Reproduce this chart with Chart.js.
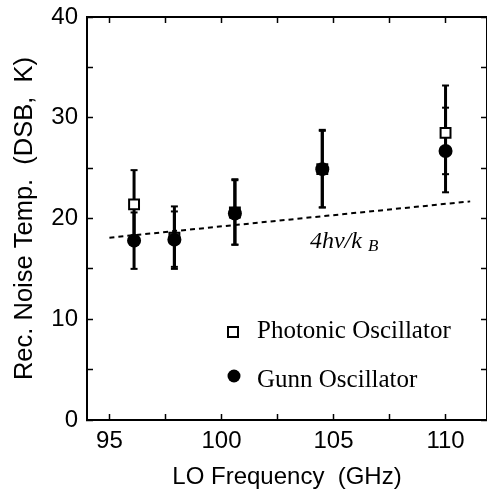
<!DOCTYPE html>
<html><head><meta charset="utf-8">
<script src="https://cdn.jsdelivr.net/npm/chart.js@4/dist/chart.umd.min.js"></script>
<style>html,body{margin:0;padding:0;background:#fff;overflow:hidden;}</style>
</head><body>
<canvas id="c" width="487" height="493"></canvas>
<script>
// ---- data ----
const frequencyGHz    = [96.1, 97.9, 100.6, 104.5, 110.0];
const photonicTemp    = [21.4, 18.1, 20.6, 24.9, 28.5];
const photonicErrLow  = [18.0, 15.2, 17.4, 21.1, 24.4];
const photonicErrHigh = [24.8, 21.2, 23.9, 28.8, 33.2];
const gunnTemp        = [17.8, 17.9, 20.5, 24.9, 26.7];
const gunnErrLow      = [15.0, 15.0, 17.4, 21.1, 22.6];
const gunnErrHigh     = [20.6, 20.7, 23.8, 28.7, 31.0];
const limitFreq       = [95.0, 111.1];
const limitTemp       = [18.1, 21.7];
const xTickLabels     = [95, 100, 105, 110];
const yTickLabels     = [0, 10, 20, 30, 40];
const seriesNames     = ['Photonic Oscillator', 'Gunn Oscillator'];
const limitLabel      = ['4hν/k', 'B'];
const xTitle = 'LO Frequency  (GHz)';
const yTitle = 'Rec. Noise Temp.  (DSB,  K)';

// ---- build library structures ----
const pts = (xs, ys) => xs.map((x, i) => ({x: x, y: ys[i]}));
function errorBars(xs, lo, hi) {
  const out = [];
  xs.forEach((x, i) => { out.push({x: x, y: lo[i]}, {x: x, y: hi[i]}, {x: x, y: null}); });
  return out;
}

const SANS = "'Liberation Sans', Arial, sans-serif";
const SERIF = "'Liberation Serif', 'Times New Roman', serif";
Chart.defaults.font.family = SANS;
Chart.defaults.color = '#000';

const axisCommon = (stepSize) => ({
  type: 'linear',
  border: {display: true, color: '#000', width: 2},
  grid: {drawOnChartArea: false, drawTicks: true, tickLength: -6, tickColor: '#000', tickWidth: 1.5},
  ticks: {stepSize: stepSize, includeBounds: false, autoSkip: false, maxRotation: 0, minRotation: 0}
});
const fixSize = (prop, val) => (s) => {
  s[prop] = val;
  s.paddingLeft = 0; s.paddingRight = 0; s.paddingTop = 0; s.paddingBottom = 0;
};

const xMin = 94, xMax = 111.85, yMin = 0, yMax = 40;

const overlay = {
  id: 'overlay',
  afterDatasetsDraw(chart) {
    const {ctx, chartArea: a, scales: {x, y}} = chart;
    ctx.save();
    ctx.fillStyle = '#000'; ctx.strokeStyle = '#000';
    // annotation of the dashed line
    ctx.textBaseline = 'alphabetic'; ctx.textAlign = 'left';
    const ax = x.getPixelForValue(103.95), ay = y.getPixelForValue(17.1);
    ctx.font = 'italic 24px ' + SERIF;
    ctx.fillText(limitLabel[0], ax, ay);
    const w = ctx.measureText(limitLabel[0]).width;
    ctx.font = 'italic 17px ' + SERIF;
    ctx.fillText(limitLabel[1], ax + w + 6, ay + 3);
    // legend
    const mx = a.left + 146;
    ctx.lineWidth = 2;
    ctx.fillStyle = '#fff';
    ctx.fillRect(mx - 5, a.top + 315 - 5, 10, 10);
    ctx.strokeRect(mx - 5, a.top + 315 - 5, 10, 10);
    ctx.fillStyle = '#000';
    ctx.beginPath(); ctx.arc(mx + 1, a.top + 359, 6.5, 0, Math.PI * 2); ctx.fill();
    ctx.font = '25px ' + SERIF;
    ctx.fillText(seriesNames[0], a.left + 170, a.top + 321);
    ctx.fillText(seriesNames[1], a.left + 170, a.top + 370);
    ctx.restore();
  }
};

new Chart(document.getElementById('c'), {
  type: 'scatter',
  data: {
    datasets: [
      {label: seriesNames[1], data: pts(frequencyGHz, gunnTemp), pointStyle: 'circle',
       pointRadius: 7, pointBorderWidth: 0, backgroundColor: '#000', borderColor: '#000'},
      {label: seriesNames[0], data: pts(frequencyGHz, photonicTemp), pointStyle: 'rect',
       pointRadius: 7, pointBorderWidth: 2, backgroundColor: '#fff', borderColor: '#000'},
      {label: 'gunn err', data: errorBars(frequencyGHz, gunnErrLow, gunnErrHigh), showLine: true, spanGaps: false,
       borderColor: '#000', borderWidth: 3, pointStyle: 'line', pointRadius: 3.5, pointBorderWidth: 2, pointBorderColor: '#000'},
      {label: 'photonic err', data: errorBars(frequencyGHz, photonicErrLow, photonicErrHigh), showLine: true, spanGaps: false,
       borderColor: '#000', borderWidth: 3, pointStyle: 'line', pointRadius: 3.5, pointBorderWidth: 2, pointBorderColor: '#000'},
      {label: '4hv/kB', data: pts(limitFreq, limitTemp), showLine: true, borderColor: '#000',
       borderWidth: 2, borderDash: [5, 4], pointRadius: 0}
    ]
  },
  options: {
    responsive: false, animation: false, devicePixelRatio: 1,
    layout: {padding: 0, autoPadding: false},
    plugins: {legend: {display: false}, tooltip: {enabled: false}},
    scales: {
      x: Object.assign(axisCommon(2.5), {
        position: 'bottom', min: xMin, max: xMax,
        ticks: Object.assign(axisCommon(2.5).ticks, {padding: 13, font: {size: 24},
          callback: (v) => xTickLabels.includes(v) ? String(v) : ''}),
        title: {display: true, text: xTitle, font: {size: 24}, padding: {top: 0, bottom: 1}},
        afterFit: fixSize('height', 73)
      }),
      y: Object.assign(axisCommon(5), {
        position: 'left', min: yMin, max: yMax,
        ticks: Object.assign(axisCommon(5).ticks, {padding: 15, font: {size: 24},
          callback: (v) => yTickLabels.includes(v) ? String(v) : ''}),
        title: {display: true, text: yTitle, font: {size: 25.5}, padding: {top: 10, bottom: 0}},
        afterFit: fixSize('width', 87)
      }),
      xTop: Object.assign(axisCommon(2.5), {
        position: 'top', min: xMin, max: xMax,
        ticks: Object.assign(axisCommon(2.5).ticks, {display: false}),
        afterFit: fixSize('height', 17)
      }),
      yRight: Object.assign(axisCommon(5), {
        position: 'right', min: yMin, max: yMax,
        ticks: Object.assign(axisCommon(5).ticks, {display: false}),
        afterFit: fixSize('width', -1)
      })
    }
  },
  plugins: [overlay]
});
</script>
</body></html>
